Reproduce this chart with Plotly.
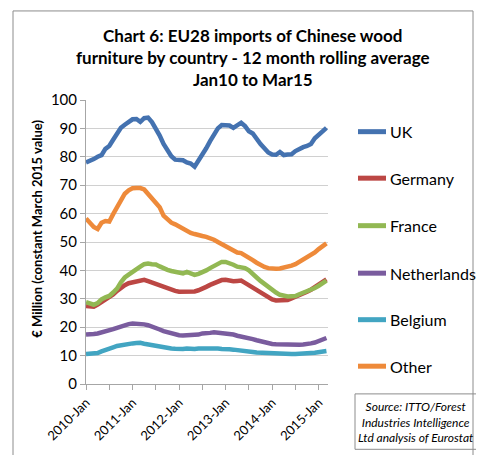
import plotly.graph_objects as go

months = ["Jan", "Feb", "Mar", "Apr", "May", "Jun", "Jul", "Aug", "Sep", "Oct", "Nov", "Dec"]
years = [2010, 2011, 2012, 2013, 2014, 2015]
categories = [f"{y}-{m}" for y in years for m in months][:63]

uk = [78.0, 78.5, 79.2, 80.0, 80.6, 82.8, 83.8, 86.0, 87.8, 90.2, 91.3, 92.5, 93.2, 93.3, 92.3, 93.6,
      93.8, 92.2, 90.0, 87.5, 84.5, 82.0, 80.2, 79.0, 78.9, 78.8, 78.0, 77.6, 76.5, 78.5, 80.5, 83.0,
      85.5, 88.0, 90.0, 91.2, 91.2, 91.0, 90.2, 91.0, 92.0, 90.8, 89.0, 88.2, 86.0, 84.5, 83.0, 81.5,
      80.8, 80.7, 81.7, 80.6, 80.8, 80.9, 82.0, 82.8, 83.4, 83.8, 84.5, 86.5, 87.8, 89.0, 90.2]
germany = [27.5, 27.3, 27.2, 28.0, 28.9, 29.6, 30.5, 31.5, 32.8, 34.0, 34.8, 35.5, 35.9, 36.2, 36.6, 36.7,
           36.2, 35.7, 35.2, 34.6, 34.0, 33.5, 33.1, 32.8, 32.5, 32.5, 32.5, 32.5, 32.6, 33.0, 33.4, 34.2,
           34.9, 35.6, 36.0, 36.6, 36.7, 36.4, 36.2, 36.3, 36.4, 35.6, 34.8, 33.8, 32.8, 32.0, 31.2, 30.4,
           29.8, 29.4, 29.4, 29.4, 29.6, 30.1, 30.6, 31.2, 31.8, 32.5, 33.2, 34.2, 35.0, 35.9, 36.8]
france = [28.8, 28.2, 27.9, 28.5, 29.8, 30.5, 31.0, 32.2, 33.6, 35.8, 37.5, 38.5, 39.6, 40.5, 41.3, 42.2,
          42.4, 42.2, 42.1, 41.4, 40.7, 40.2, 39.8, 39.5, 39.0, 38.9, 39.5, 39.0, 38.4, 38.8, 39.2, 40.0,
          40.8, 41.4, 42.3, 43.0, 43.0, 42.6, 42.0, 41.3, 41.0, 40.8, 40.0, 38.5, 37.5, 36.3, 35.2, 34.0,
          33.0, 32.2, 31.4, 30.9, 30.8, 30.9, 31.0, 31.6, 32.1, 32.7, 33.2, 33.8, 34.6, 35.5, 36.4]
netherlands = [17.4, 17.4, 17.6, 17.8, 18.1, 18.5, 18.8, 19.3, 19.8, 20.3, 20.8, 21.1, 21.3, 21.3, 21.3, 21.0,
               20.7, 20.3, 19.7, 19.2, 18.6, 18.2, 17.8, 17.5, 17.2, 17.1, 17.1, 17.2, 17.1, 17.4, 17.8, 17.8,
               18.0, 18.2, 18.1, 17.9, 17.8, 17.7, 17.4, 17.0, 16.8, 16.5, 16.2, 15.8, 15.4, 15.0, 14.6, 14.3,
               14.1, 14.0, 13.9, 13.8, 13.8, 13.8, 13.8, 13.8, 13.9, 14.0, 14.3, 14.6, 15.2, 15.7, 16.2]
belgium = [10.6, 10.6, 10.7, 10.9, 11.5, 12.1, 12.4, 12.9, 13.4, 13.7, 14.0, 14.2, 14.3, 14.4, 14.5, 14.2,
           13.9, 13.7, 13.3, 13.0, 12.8, 12.6, 12.5, 12.4, 12.3, 12.3, 12.5, 12.3, 12.3, 12.5, 12.5, 12.6,
           12.8, 12.7, 12.5, 12.3, 12.4, 12.2, 12.1, 12.0, 11.8, 11.6, 11.4, 11.3, 11.1, 11.0, 10.9, 10.8,
           10.7, 10.6, 10.6, 10.6, 10.6, 10.6, 10.6, 10.6, 10.7, 10.8, 10.9, 11.0, 11.2, 11.4, 11.6]
other = [58.3, 56.5, 55.3, 54.6, 56.8, 57.4, 57.2, 59.8, 62.0, 64.8, 67.0, 68.2, 68.9, 69.0, 69.0, 68.5,
         67.0, 65.6, 64.2, 62.2, 59.3, 57.8, 56.8, 56.2, 55.4, 54.7, 54.0, 53.2, 52.8, 52.3, 52.1, 51.8,
         51.4, 50.8, 50.0, 49.2, 48.4, 47.8, 46.8, 46.3, 46.1, 45.4, 44.5, 43.6, 42.7, 41.9, 41.2, 40.8,
         40.6, 40.6, 40.7, 40.9, 41.2, 41.7, 42.2, 43.0, 43.8, 44.6, 45.5, 46.3, 47.5, 48.5, 49.5]

series_names = ["UK", "Germany", "France", "Netherlands", "Belgium", "Other"]
series_values = [uk, germany, france, netherlands, belgium, other]
series_colors = ["#4472B0", "#BC4744", "#92B853", "#7A5C9E", "#42A5C2", "#EE8A3A"]

tick_vals = categories[::6]
tick_text = [c if c.endswith("Jan") else "" for c in tick_vals]

FONT = "Lato"
OFF = 8  # page body margin
W, H = 484 - OFF, 455 - OFF
L, R, T, B = 78, 156, 92, 68
pw, ph = W - L - R, H - T - B


def px(x):
    return (x - OFF - L) / pw


def py(y):
    return (H - B - (y - OFF)) / ph


fig = go.Figure()
for name, vals, col in zip(series_names, series_values, series_colors):
    fig.add_trace(go.Scatter(x=categories, y=vals, name=name, mode="lines",
                             line=dict(color=col, width=4.5), showlegend=False))

fig.update_layout(
    width=W, height=H,
    margin=dict(l=L, r=R, t=T, b=B),
    paper_bgcolor="white", plot_bgcolor="white",
    font=dict(family=FONT, color="#000000"),
    showlegend=False,
    xaxis=dict(type="category", range=[0, 62.4], tickmode="array",
               tickvals=tick_vals, ticktext=tick_text, tickangle=-45,
               ticks="outside", ticklen=5, tickcolor="#a6a6a6",
               showline=True, linecolor="#a6a6a6", linewidth=1,
               showgrid=False, tickfont=dict(size=13, family=FONT)),
    yaxis=dict(range=[0, 100], dtick=10, ticks="outside", ticklen=5,
               tickcolor="#a6a6a6", showline=True, linecolor="#a6a6a6",
               linewidth=1, showgrid=True, gridcolor="#d0d0d0", gridwidth=1,
               zeroline=False, tickfont=dict(size=15, family=FONT)),
)

# legend (drawn manually so it can reach the right edge like the original)
legend_y = [132, 179, 227, 275, 322, 369]
for name, col, ly in zip(series_names, series_colors, legend_y):
    fig.add_shape(type="line", xref="paper", yref="paper",
                  x0=px(358), x1=px(386), y0=py(ly), y1=py(ly),
                  line=dict(color=col, width=5))
    fig.add_annotation(xref="paper", yref="paper", x=px(388), y=py(ly),
                       text=name, showarrow=False, xanchor="left", yanchor="middle",
                       font=dict(size=16, family=FONT))

fig.add_annotation(xref="paper", yref="paper", x=px(253), y=py(57),
                   text="<b>Chart 6: EU28 imports of Chinese wood<br>furniture by country - 12 month rolling average<br>Jan10 to Mar15</b>",
                   showarrow=False, font=dict(size=17, family=FONT), align="center",
                   xanchor="center", yanchor="middle")

fig.add_annotation(xref="paper", yref="paper", x=px(37), y=py(230),
                   text="<b>€ Million (constant March 2015 value)</b>", textangle=-90,
                   showarrow=False, font=dict(size=13, family=FONT),
                   xanchor="center", yanchor="middle")

fig.add_annotation(xref="paper", yref="paper", x=px(416), y=py(425),
                   text="<i>Source: ITTO/Forest<br>Industries Intelligence<br>Ltd analysis of Eurostat</i>",
                   showarrow=False, font=dict(size=12, family=FONT), align="center",
                   xanchor="center", yanchor="middle")

fig.add_shape(type="rect", xref="paper", yref="paper",
              x0=px(355), x1=px(477), y0=py(453), y1=py(397),
              line=dict(color="#8c8c8c", width=1))
fig.add_shape(type="rect", xref="paper", yref="paper",
              x0=px(13), x1=px(473), y0=py(470), y1=py(10),
              line=dict(color="#8c8c8c", width=1))

fig.write_html("out.html")
